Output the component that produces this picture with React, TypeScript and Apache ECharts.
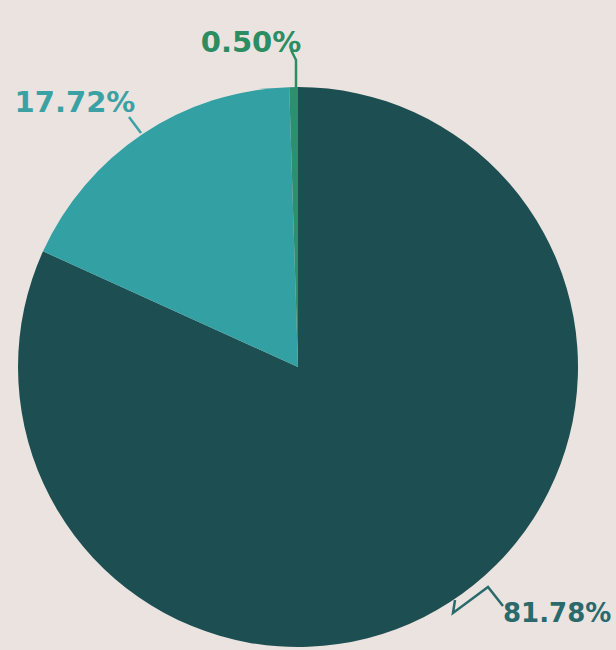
import React, { useEffect, useRef } from "react";
import * as echarts from "echarts";

const categories = ["A", "B", "C"];
const values = [81.78, 17.72, 0.5];
const labels = ["81.78%", "17.72%", "0.50%"];
const sliceColors = ["#1d4f52", "#33a0a3", "#2c9070"];
const labelColors = ["#2a6a6c", "#3aa2a4", "#2c8c62"];

export default function App() {
  const ref = useRef<HTMLDivElement>(null);
  useEffect(() => {
    if (!ref.current) return;
    const chart = echarts.init(ref.current, undefined, { renderer: "svg" });
    const layouts: Record<number, any> = {
      0: { x: 503, y: 613, align: "left", verticalAlign: "middle", pts: [[455, 600], [453, 613], [488, 587], [503, 606]] },
      1: { x: 75, y: 102, align: "center", verticalAlign: "middle", pts: [[141, 133], [129, 117]] },
      2: { x: 251, y: 42, align: "center", verticalAlign: "middle", pts: [[296, 90], [296, 60], [291, 50]] },
    };
    chart.setOption({
      animation: false,
      backgroundColor: "#ebe3df",
      series: [
        {
          type: "pie",
          center: [298, 367],
          radius: 280,
          startAngle: 90,
          clockwise: true,
          avoidLabelOverlap: false,
          data: categories.map((c, i) => ({
            name: c,
            value: values[i],
            itemStyle: { color: sliceColors[i] },
            label: { color: labelColors[i], fontSize: i === 0 ? 26 : 29 },
            labelLine: { lineStyle: { color: labelColors[i], width: 2.5 } },
          })),
          label: {
            show: true,
            position: "outside",
            formatter: (p: any) => labels[p.dataIndex],
            fontFamily: "DejaVu Sans",
            fontWeight: "bold",
            fontSize: 29,
          },
          labelLine: { show: true, smooth: false },
          labelLayout: (p: any) => {
            const l = layouts[p.dataIndex];
            return { x: l.x, y: l.y, align: l.align, verticalAlign: l.verticalAlign, labelLinePoints: l.pts };
          },
          emphasis: { disabled: true },
        },
      ],
    });
    return () => chart.dispose();
  }, []);
  return (
    <div
      ref={ref}
      style={{ position: "fixed", left: 0, top: 0, width: 616, height: 650 }}
    />
  );
}
